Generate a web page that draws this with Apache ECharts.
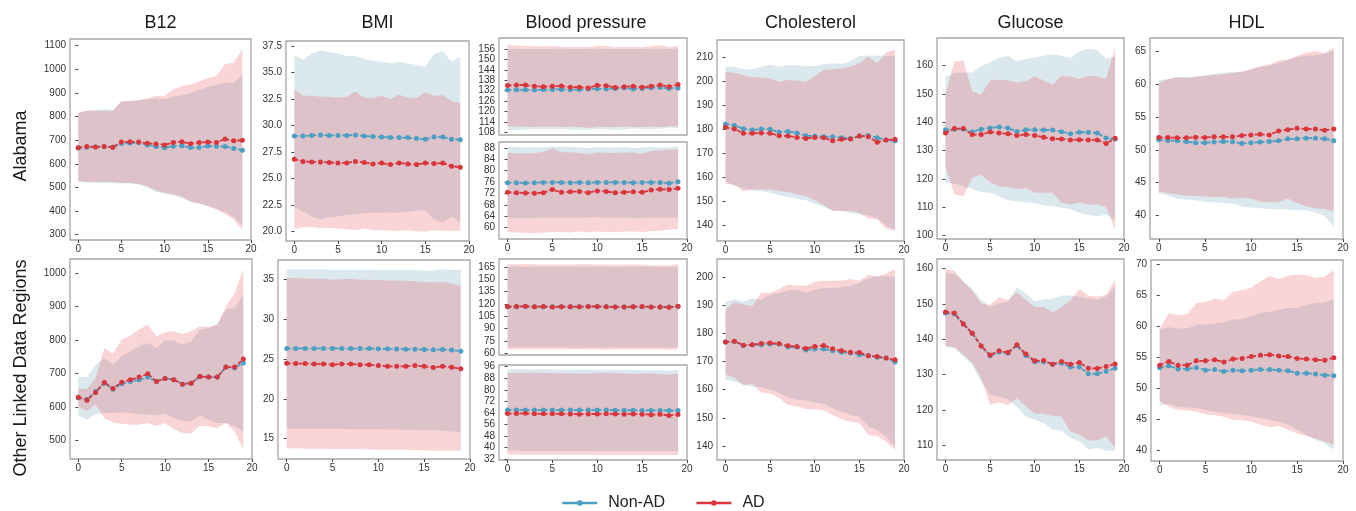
<!DOCTYPE html>
<html><head><meta charset="utf-8">
<script src="https://cdn.jsdelivr.net/npm/echarts@6/dist/echarts.min.js"></script>
<style>html,body{margin:0;padding:0;background:#fff}#c{width:1356px;height:511px}</style>
</head><body><div id="c"></div><script>
// ---------- data ----------
const X = [0,1,2,3,4,5,6,7,8,9,10,11,12,13,14,15,16,17,18,19];
const X_TICKS = [0,5,10,15,20];
const COLS = ['B12','BMI','Blood pressure','Cholesterol','Glucose','HDL'];
const ROWS = ['Alabama','Other Linked Data Regions'];
const SERIES_NAMES = ['Non-AD','AD'];

// Alabama B12
const AL_B12_NON_MEAN=[667,670,671,672,670,686,688,689,680,673,668,674,676,669,669,675,674,673,665,657];
const AL_B12_NON_LO=[524,522,520,520,518,518,517,512,500,482,472,466,455,440,432,422,410,395,375,340];
const AL_B12_NON_HI=[814,823,828,832,828,863,866,867,873,876,873,884,891,898,912,926,933,943,943,979];
const AL_B12_AD_MEAN=[668,673,671,673,670,692,693,692,687,684,680,690,693,685,690,692,690,705,697,700];
const AL_B12_AD_LO=[526,523,523,523,523,519,519,516,505,488,477,471,460,439,432,420,406,389,364,319];
const AL_B12_AD_HI=[816,825,823,823,823,866,866,870,877,888,887,915,929,936,948,962,972,1022,1028,1086];
const AL_B12_YTICKS=[300,400,500,600,700,800,900,1000,1100];
// Alabama BMI
const AL_BMI_NON_MEAN=[29.0,29.0,29.05,29.1,29.05,29.05,29.05,29.1,29.0,28.95,28.9,28.85,28.85,28.85,28.75,28.7,28.9,28.9,28.7,28.65];
const AL_BMI_NON_LO=[22.3,21.85,21.4,21.1,21.3,21.4,21.55,21.55,21.7,21.75,21.75,21.8,21.75,21.85,21.95,21.95,21.1,20.8,21.4,20.8];
const AL_BMI_NON_HI=[36.65,36.2,36.8,37.1,36.9,36.8,36.55,36.55,36.3,36.1,36.0,35.9,36.0,35.85,35.7,35.55,36.75,37.0,36.0,36.5];
const AL_BMI_AD_MEAN=[26.8,26.6,26.55,26.55,26.5,26.45,26.45,26.6,26.5,26.35,26.45,26.3,26.45,26.35,26.3,26.45,26.4,26.45,26.15,26.05];
const AL_BMI_AD_LO=[20.2,20.4,20.4,20.3,20.3,20.25,20.2,20.1,20.25,20.1,20.1,20.05,20.05,20.1,20.0,19.95,20.1,20.05,20.05,20.05];
const AL_BMI_AD_HI=[33.4,32.8,32.8,32.7,32.7,32.6,32.7,33.2,32.6,32.6,32.8,32.5,32.9,32.6,32.6,33.1,32.8,32.85,32.3,32.1];
const AL_BMI_YTICKS=[20.0,22.5,25.0,27.5,30.0,32.5,35.0,37.5];
// Alabama systolic
const AL_SYS_NON_MEAN=[132.4,132.5,132.5,132.4,132.6,132.7,132.7,132.5,132.7,132.9,133.1,133.0,133.3,133.5,132.9,133.3,133.7,133.8,133.3,133.5];
const AL_SYS_NON_LO=[109.2,109.5,109.6,109.8,110.0,109.8,109.8,109.6,109.5,109.4,109.8,109.8,109.5,109.6,110.3,109.8,109.8,110.0,110.8,110.5];
const AL_SYS_NON_HI=[156.2,156.1,156.1,156.0,156.1,156.0,156.2,156.1,156.1,156.1,156.2,156.1,156.0,156.1,156.1,156.0,156.2,156.2,156.0,156.3];
const AL_SYS_AD_MEAN=[135.0,135.3,135.2,134.6,134.3,134.5,134.7,134.0,134.0,133.6,135.1,134.9,133.8,134.2,134.5,133.9,134.6,135.2,134.3,135.5];
const AL_SYS_AD_LO=[111.5,111.3,111.1,111.0,111.2,111.1,111.0,111.2,111.0,110.5,111.2,111.0,111.0,111.2,111.0,111.0,111.2,111.0,111.4,111.5];
const AL_SYS_AD_HI=[158.3,158.1,157.8,157.6,157.6,157.8,157.4,157.0,157.3,157.1,158.0,157.8,157.0,157.3,157.2,157.0,157.8,158.4,157.0,158.1];
const AL_SYS_YTICKS=[108,114,120,126,132,138,144,150,156];
// Alabama diastolic
const AL_DIA_NON_MEAN=[75.8,75.8,75.7,75.8,75.9,75.9,75.9,75.8,75.9,75.8,75.9,75.9,75.9,75.9,75.8,75.9,75.9,75.9,75.6,76.1];
const AL_DIA_NON_LO=[63.3,63.3,63.3,63.4,63.5,63.6,63.6,63.6,63.6,63.6,63.7,63.5,63.6,63.6,63.4,63.4,63.5,63.6,63.6,63.6];
const AL_DIA_NON_HI=[88.3,88.3,88.2,88.3,88.2,88.5,88.4,88.3,88.2,88.0,88.3,88.2,88.2,88.3,88.0,88.2,88.4,88.2,88.2,88.6];
const AL_DIA_AD_MEAN=[72.4,72.3,72.2,72.1,72.3,73.4,72.4,72.6,72.7,72.3,72.9,72.7,72.3,72.4,72.6,72.4,73.2,73.5,73.4,73.8];
const AL_DIA_AD_LO=[58.4,58.3,58.2,58.0,58.2,58.5,58.4,58.3,58.6,58.3,58.6,58.5,58.4,58.6,58.6,58.5,58.7,58.9,59.3,59.4];
const AL_DIA_AD_HI=[86.3,86.1,86.1,86.2,86.6,88.0,86.5,86.5,86.2,85.9,86.4,86.3,86.2,86.4,86.4,86.0,87.0,87.2,87.4,87.6];
const AL_DIA_YTICKS=[60,64,68,72,76,80,84,88];
// Alabama cholesterol
const AL_CHOL_NON_MEAN=[182.2,181.6,180.2,179.7,180.1,180.0,178.8,179.1,178.5,177.3,177.2,176.9,176.9,176.5,176.2,177.2,177.4,176.5,175.5,175.2];
const AL_CHOL_NON_LO=[158.1,156.7,155.3,154.6,154.2,153.6,152.5,151.8,151.1,150.4,149.0,147.7,146.3,146.0,145.1,144.6,144.2,142.8,140.0,137.9];
const AL_CHOL_NON_HI=[206.1,206.1,205.0,205.0,206.1,206.8,206.1,206.7,206.7,206.4,206.4,207.1,207.5,207.2,208.2,210.6,210.6,210.6,210.6,210.6];
const AL_CHOL_AD_MEAN=[180.8,180.1,178.3,178.3,178.5,178.3,177.3,177.2,176.6,176.2,176.6,176.5,175.2,175.8,175.9,177.2,176.9,174.6,175.5,175.8];
const AL_CHOL_AD_LO=[157.4,156.7,154.2,154.9,154.9,154.9,154.3,153.9,152.9,152.2,150.4,148.3,146.0,146.0,146.0,145.1,142.8,142.4,138.6,137.9];
const AL_CHOL_AD_HI=[204.0,203.6,202.6,201.6,201.6,201.2,199.8,200.5,200.3,199.7,202.2,204.7,205.0,205.4,206.1,207.5,210.3,207.5,212.0,213.3];
const AL_CHOL_YTICKS=[140,150,160,170,180,190,200,210];
// Alabama glucose
const AL_GLU_NON_MEAN=[137.4,137.6,137.6,136.6,137.6,138.0,138.4,138.0,136.8,137.4,137.4,137.3,137.3,136.7,136.0,136.5,136.5,136.2,134.5,134.1];
const AL_GLU_NON_LO=[118.6,118.4,117.4,116.5,115.3,115.1,113.9,112.5,112.1,111.8,111.5,110.6,110.4,109.8,109.4,108.0,107.4,106.8,107.4,105.6];
const AL_GLU_NON_HI=[156.0,157.4,157.6,157.6,159.8,161.2,162.7,163.5,161.5,162.4,162.9,163.5,164.1,163.5,162.7,165.1,165.9,165.6,162.4,163.3];
const AL_GLU_AD_MEAN=[136.2,137.8,137.8,135.7,135.7,136.6,136.2,136.0,135.4,135.7,135.4,134.7,134.2,134.1,133.8,133.9,133.8,133.8,132.5,134.4];
const AL_GLU_AD_LO=[124.5,114.5,113.9,120.4,121.5,118.8,117.4,117.1,116.5,116.8,115.1,115.1,115.1,111.5,111.0,111.8,111.0,111.0,110.1,102.1];
const AL_GLU_AD_HI=[149.8,161.5,161.9,150.9,149.8,154.8,155.1,154.8,154.1,154.5,156.2,154.8,153.3,156.5,156.2,155.3,156.5,156.2,155.3,166.6];
const AL_GLU_YTICKS=[100,110,120,130,140,150,160];
// Alabama HDL
const AL_HDL_NON_MEAN=[51.55,51.45,51.4,51.25,51.1,51.1,51.2,51.3,51.25,51.0,51.1,51.2,51.3,51.4,51.7,51.7,51.8,51.8,51.7,51.4];
const AL_HDL_NON_LO=[43.4,43.0,42.6,42.4,42.3,42.1,42.0,41.9,41.8,41.4,41.2,41.1,41.0,40.9,40.9,40.8,40.8,40.5,39.9,38.3];
const AL_HDL_NON_HI=[60.7,60.8,61.2,61.1,61.2,61.4,61.6,61.8,61.9,61.9,62.3,62.7,62.9,63.3,63.7,64.2,64.4,64.5,64.7,65.1];
const AL_HDL_AD_MEAN=[51.9,51.9,51.85,51.85,51.95,51.9,52.0,52.0,52.0,52.2,52.3,52.4,52.3,52.9,53.1,53.3,53.2,53.2,53.0,53.2];
const AL_HDL_AD_LO=[43.7,43.4,43.2,43.0,43.0,42.9,42.8,42.8,42.6,42.7,42.6,42.1,42.0,42.0,42.6,41.9,41.4,41.1,41.0,40.6];
const AL_HDL_AD_HI=[60.2,60.8,61.1,61.0,61.2,61.3,61.5,61.6,61.7,62.0,62.3,62.8,63.0,63.7,63.8,64.4,64.8,65.1,64.8,65.6];
const AL_HDL_YTICKS=[40,45,50,55,60,65];

// Other regions B12
const OT_B12_NON_MEAN=[627,622,646,671,653,669,676,681,689,676,685,681,668,671,691,689,689,719,716,731];
const OT_B12_NON_LO=[575,562,579,582,582,584,582,577,577,574,580,567,557,557,574,562,552,552,542,527];
const OT_B12_NON_HI=[689,689,726,746,726,751,766,781,791,776,799,799,786,796,831,836,846,891,896,938];
const OT_B12_AD_MEAN=[629,620,643,673,655,674,681,689,699,676,685,681,668,671,691,689,689,719,719,743];
const OT_B12_AD_LO=[602,587,607,567,554,550,547,547,552,542,552,534,522,520,544,542,537,552,527,472];
const OT_B12_AD_HI=[655,653,686,776,759,801,813,831,846,811,823,826,818,826,841,839,846,900,940,1012];
const OT_B12_YTICKS=[500,600,700,800,900,1000];
// Other regions BMI
const OT_BMI_NON_MEAN=[26.35,26.35,26.35,26.35,26.35,26.35,26.35,26.33,26.33,26.33,26.3,26.3,26.28,26.25,26.25,26.22,26.2,26.22,26.15,26.0];
const OT_BMI_NON_LO=[16.25,16.25,16.25,16.25,16.25,16.25,16.25,16.2,16.2,16.2,16.2,16.15,16.15,16.1,16.1,16.05,16.05,16.0,15.9,15.8];
const OT_BMI_NON_HI=[36.3,36.3,36.3,36.3,36.3,36.25,36.25,36.25,36.25,36.25,36.2,36.2,36.2,36.2,36.2,36.15,36.15,36.3,36.2,36.2];
const OT_BMI_AD_MEAN=[24.5,24.45,24.45,24.4,24.4,24.3,24.4,24.4,24.3,24.3,24.2,24.1,24.1,24.1,24.2,24.1,23.95,24.1,24.0,23.8];
const OT_BMI_AD_LO=[13.8,13.8,13.75,13.75,13.75,13.7,13.7,13.7,13.7,13.65,13.6,13.6,13.6,13.6,13.55,13.55,13.5,13.5,13.5,13.5];
const OT_BMI_AD_HI=[35.2,35.2,35.15,35.1,35.1,35.0,35.05,35.1,35.0,35.0,34.95,34.9,34.9,34.85,34.8,34.7,34.65,34.7,34.5,34.2];
const OT_BMI_YTICKS=[15,20,25,30,35];
// Other regions systolic
const OT_SYS_NON_MEAN=[116.8,116.8,117.0,116.7,116.8,116.6,116.7,116.7,116.7,117.0,116.8,116.7,116.5,116.5,116.7,116.8,116.5,116.5,116.3,116.9];
const OT_SYS_NON_LO=[67.5,67.4,67.3,67.2,67.2,67.2,67.2,67.1,67.1,67.1,67.0,67.0,67.0,67.0,67.0,67.0,67.0,67.0,67.0,67.0];
const OT_SYS_NON_HI=[165.6,165.6,165.5,165.4,165.4,165.4,165.4,165.5,165.5,165.5,165.5,165.4,165.4,165.4,165.4,165.3,165.3,165.2,165.2,165.4];
const OT_SYS_AD_MEAN=[116.9,116.9,117.2,116.7,116.9,116.4,116.7,116.7,116.7,117.1,116.9,116.7,116.4,116.4,116.7,116.9,116.4,116.4,115.9,117.4];
const OT_SYS_AD_LO=[65.0,64.9,64.9,64.9,64.8,64.8,64.8,64.8,64.8,64.8,64.6,64.3,64.5,64.6,64.7,64.7,64.6,64.6,64.3,64.8];
const OT_SYS_AD_HI=[168.5,168.5,168.7,168.3,168.0,167.9,168.0,168.2,168.3,168.3,168.0,167.8,167.8,167.8,168.2,167.7,167.0,167.3,166.8,168.5];
const OT_SYS_YTICKS=[60,75,90,105,120,135,150,165];
// Other regions diastolic
const OT_DIA_NON_MEAN=[66.1,66.1,66.1,66.0,66.0,66.0,66.0,66.0,66.0,66.0,66.0,66.0,65.9,65.9,65.9,65.8,65.8,65.8,65.7,65.8];
const OT_DIA_NON_LO=[37.9,37.9,37.8,37.8,37.8,37.8,37.8,37.7,37.7,37.7,37.8,37.8,37.7,37.7,37.7,37.7,37.6,37.6,37.6,37.6];
const OT_DIA_NON_HI=[94.2,94.2,94.2,94.1,94.1,94.1,94.0,94.0,94.0,94.0,94.0,94.0,94.0,93.9,93.8,93.7,93.6,93.5,93.3,93.8];
const OT_DIA_AD_MEAN=[63.6,63.7,63.8,63.5,63.4,63.5,63.4,63.3,63.2,63.3,63.3,63.5,63.3,63.2,63.3,63.2,62.8,63.1,62.3,62.9];
const OT_DIA_AD_LO=[35.3,35.3,35.2,35.2,35.2,35.2,35.1,35.1,35.1,35.1,35.0,35.0,35.0,35.0,35.0,35.0,35.0,34.9,34.9,34.9];
const OT_DIA_AD_HI=[91.8,91.9,91.9,91.8,91.6,91.6,91.5,91.5,91.4,91.4,91.6,91.9,91.6,91.5,91.2,91.3,91.3,90.9,90.4,90.9];
const OT_DIA_YTICKS=[32,40,48,56,64,72,80,88,96];
// Other regions cholesterol
const OT_CHOL_NON_MEAN=[176.9,177.1,175.7,175.9,175.9,176.2,176.2,175.1,175.1,174.1,174.4,174.4,173.8,173.3,173.0,172.4,172.0,171.5,171.2,169.8];
const OT_CHOL_NON_LO=[163.5,162.9,161.7,161.1,160.9,159.9,159.0,157.0,156.4,156.1,155.4,154.9,153.4,152.2,151.0,150.4,146.9,145.7,143.3,139.7];
const OT_CHOL_NON_HI=[191.3,191.9,191.3,192.5,191.9,193.7,194.3,195.3,195.5,194.5,195.5,196.1,196.1,196.4,196.9,197.9,199.6,200.2,200.2,200.2];
const OT_CHOL_AD_MEAN=[176.9,177.2,175.8,175.9,176.4,176.6,176.3,175.6,175.3,174.6,175.3,175.7,174.5,173.8,173.3,173.2,172.0,171.8,171.2,170.6];
const OT_CHOL_AD_LO=[165.3,164.1,161.7,162.0,159.0,158.5,157.0,154.6,154.0,153.0,153.0,152.6,151.0,149.5,148.6,148.1,143.9,143.5,141.5,138.6];
const OT_CHOL_AD_HI=[188.4,191.0,190.2,189.6,194.3,194.5,195.7,197.3,196.9,196.9,198.2,198.7,198.7,198.8,199.3,198.7,200.8,200.2,201.2,203.0];
const OT_CHOL_YTICKS=[140,150,160,170,180,190,200];
// Other regions glucose
const OT_GLU_NON_MEAN=[147.4,147.1,144.3,141.7,138.1,135.3,136.4,136.0,138.2,135.4,133.6,133.6,132.9,133.2,132.1,132.1,130.2,130.2,130.9,131.8];
const OT_GLU_NON_LO=[137.9,137.5,135.1,132.7,128.0,124.3,123.8,123.0,120.9,118.1,117.2,116.2,114.4,114.1,112.0,111.1,108.7,109.2,108.4,108.4];
const OT_GLU_NON_HI=[158.7,158.5,156.3,154.2,151.1,149.2,150.2,150.7,154.7,153.0,150.7,151.3,151.5,152.4,152.4,152.1,151.6,151.1,152.1,154.9];
const OT_GLU_AD_MEAN=[147.7,147.4,144.3,141.7,138.1,135.5,136.7,136.2,138.4,135.8,133.9,134.0,132.9,133.7,132.9,133.4,131.8,131.7,132.3,133.0];
const OT_GLU_AD_LO=[138.1,137.7,135.6,133.4,129.0,121.4,122.1,121.4,123.3,121.0,118.9,118.9,118.3,118.1,113.9,113.0,111.3,111.3,112.5,109.2];
const OT_GLU_AD_HI=[159.9,159.4,156.3,153.8,150.2,149.7,151.9,151.1,153.2,151.1,149.1,149.1,147.6,149.0,151.1,154.2,152.3,152.1,152.5,156.8];
const OT_GLU_YTICKS=[110,120,130,140,150,160];
// Other regions HDL
const OT_HDL_NON_MEAN=[53.3,53.6,53.1,53.1,53.3,52.9,53.0,52.7,52.9,52.8,52.9,53.0,53.0,52.9,52.8,52.4,52.4,52.3,52.1,52.0];
const OT_HDL_NON_LO=[47.3,47.5,47.0,46.9,46.8,46.5,46.2,46.0,45.8,45.7,45.5,45.2,44.9,44.6,44.1,43.3,42.5,41.7,41.1,40.1];
const OT_HDL_NON_HI=[59.5,59.8,59.6,59.6,60.2,60.3,60.4,60.6,61.1,61.1,61.6,62.1,62.3,62.6,62.9,62.9,63.4,63.7,63.8,64.3];
const OT_HDL_AD_MEAN=[53.7,54.3,53.7,53.7,54.4,54.4,54.6,54.2,54.7,54.8,55.1,55.3,55.4,55.2,55.1,54.8,54.7,54.6,54.5,54.9];
const OT_HDL_AD_LO=[48.0,47.0,46.5,46.4,46.2,45.8,45.7,45.4,44.9,44.9,44.6,44.1,43.7,43.9,43.3,42.7,42.3,41.9,41.4,40.9];
const OT_HDL_AD_HI=[59.6,62.1,61.8,61.9,63.7,63.9,64.4,64.2,65.5,65.8,66.2,67.2,68.1,67.6,68.1,68.3,68.2,67.8,68.0,69.0];
const OT_HDL_YTICKS=[40,45,50,55,60,65,70];

// ---------- layout (positions, not data) ----------
const PANELS = [
  {box:[70,39,181,201],  ymin:277.5, ymax:1128, yt:AL_B12_YTICKS, dec:0, xl:true, d:[AL_B12_NON_MEAN,AL_B12_NON_LO,AL_B12_NON_HI,AL_B12_AD_MEAN,AL_B12_AD_LO,AL_B12_AD_HI]},
  {box:[286,41,183,200], ymin:19.08, ymax:37.97, yt:AL_BMI_YTICKS, dec:1, xl:true, d:[AL_BMI_NON_MEAN,AL_BMI_NON_LO,AL_BMI_NON_HI,AL_BMI_AD_MEAN,AL_BMI_AD_LO,AL_BMI_AD_HI]},
  {box:[499,38,188,97],  ymin:106.4, ymax:162.4, yt:AL_SYS_YTICKS, dec:0, xl:false, d:[AL_SYS_NON_MEAN,AL_SYS_NON_LO,AL_SYS_NON_HI,AL_SYS_AD_MEAN,AL_SYS_AD_LO,AL_SYS_AD_HI]},
  {box:[499,142,188,97], ymin:56.0, ymax:90.1, yt:AL_DIA_YTICKS, dec:0, xl:true, d:[AL_DIA_NON_MEAN,AL_DIA_NON_LO,AL_DIA_NON_HI,AL_DIA_AD_MEAN,AL_DIA_AD_LO,AL_DIA_AD_HI]},
  {box:[717,40,187,201], ymin:133.45, ymax:217.2, yt:AL_CHOL_YTICKS, dec:0, xl:true, d:[AL_CHOL_NON_MEAN,AL_CHOL_NON_LO,AL_CHOL_NON_HI,AL_CHOL_AD_MEAN,AL_CHOL_AD_LO,AL_CHOL_AD_HI]},
  {box:[937,38,187,201], ymin:98.8, ymax:169.8, yt:AL_GLU_YTICKS, dec:0, xl:true, d:[AL_GLU_NON_MEAN,AL_GLU_NON_LO,AL_GLU_NON_HI,AL_GLU_AD_MEAN,AL_GLU_AD_LO,AL_GLU_AD_HI]},
  {box:[1150,38,193,201],ymin:36.4, ymax:67.1, yt:AL_HDL_YTICKS, dec:0, xl:true, d:[AL_HDL_NON_MEAN,AL_HDL_NON_LO,AL_HDL_NON_HI,AL_HDL_AD_MEAN,AL_HDL_AD_LO,AL_HDL_AD_HI]},
  {box:[70,259,182,200], ymin:444.4, ymax:1041.8, yt:OT_B12_YTICKS, dec:0, xl:true, d:[OT_B12_NON_MEAN,OT_B12_NON_LO,OT_B12_NON_HI,OT_B12_AD_MEAN,OT_B12_AD_LO,OT_B12_AD_HI]},
  {box:[278,260,192,199],ymin:12.45, ymax:37.47, yt:OT_BMI_YTICKS, dec:0, xl:true, d:[OT_BMI_NON_MEAN,OT_BMI_NON_LO,OT_BMI_NON_HI,OT_BMI_AD_MEAN,OT_BMI_AD_LO,OT_BMI_AD_HI]},
  {box:[499,259,188,96], ymin:57.9, ymax:174.8, yt:OT_SYS_YTICKS, dec:0, xl:false, d:[OT_SYS_NON_MEAN,OT_SYS_NON_LO,OT_SYS_NON_HI,OT_SYS_AD_MEAN,OT_SYS_AD_LO,OT_SYS_AD_HI]},
  {box:[499,365,188,95], ymin:31.5, ymax:97.2, yt:OT_DIA_YTICKS, dec:0, xl:true, d:[OT_DIA_NON_MEAN,OT_DIA_NON_LO,OT_DIA_NON_HI,OT_DIA_AD_MEAN,OT_DIA_AD_LO,OT_DIA_AD_HI]},
  {box:[717,259,187,201],ymin:135.0, ymax:206.4, yt:OT_CHOL_YTICKS, dec:0, xl:true, d:[OT_CHOL_NON_MEAN,OT_CHOL_NON_LO,OT_CHOL_NON_HI,OT_CHOL_AD_MEAN,OT_CHOL_AD_LO,OT_CHOL_AD_HI]},
  {box:[937,259,187,201],ymin:105.8, ymax:162.7, yt:OT_GLU_YTICKS, dec:0, xl:true, d:[OT_GLU_NON_MEAN,OT_GLU_NON_LO,OT_GLU_NON_HI,OT_GLU_AD_MEAN,OT_GLU_AD_LO,OT_GLU_AD_HI]},
  {box:[1151,260,192,201],ymin:38.28, ymax:70.64, yt:OT_HDL_YTICKS, dec:0, xl:true, d:[OT_HDL_NON_MEAN,OT_HDL_NON_LO,OT_HDL_NON_HI,OT_HDL_AD_MEAN,OT_HDL_AD_LO,OT_HDL_AD_HI]}
];
const COL_CENTERS = [160.5,377.5,586,810.5,1030.5,1246.5];
const ROW_CENTERS = [146,368];

const BLUE = '#4a9fc2', RED = '#d9353d';
const BLUE_BAND = 'rgba(90,150,175,0.22)', RED_BAND = 'rgba(232,80,88,0.24)';
const FONT = 'Liberation Sans, Arial, sans-serif';

const grids=[], xAxes=[], yAxes=[], series=[];
function band(i, lo, hi, color){
  series.push({
    type:'custom', xAxisIndex:i, yAxisIndex:i, silent:true, z:1, clip:false,
    data: X.map((x,k)=>[x, lo[k], hi[k]]),
    encode:{x:0, y:[1,2]},
    renderItem:function(params, api){
      if(params.dataIndex!==0) return null;
      const pts=[];
      for(let k=0;k<X.length;k++) pts.push(api.coord([X[k], hi[k]]));
      for(let k=X.length-1;k>=0;k--) pts.push(api.coord([X[k], lo[k]]));
      return {type:'polygon', shape:{points:pts}, style:{fill:color, stroke:null}};
    }
  });
}
function line(i, name, vals, color){
  series.push({
    type:'line', name:name, xAxisIndex:i, yAxisIndex:i, z:3, silent:true,
    data: X.map((x,k)=>[x, vals[k]]),
    symbol:'circle', symbolSize:5, showSymbol:true, showAllSymbol:true,
    lineStyle:{color:color, width:1.8, type:[4,2]},
    itemStyle:{color:color}
  });
}
PANELS.forEach((p,i)=>{
  grids.push({left:p.box[0], top:p.box[1], width:p.box[2], height:p.box[3], show:true,
    borderColor:'#a6a6a6', borderWidth:1.3, backgroundColor:'transparent'});
  xAxes.push({type:'value', gridIndex:i, min:-0.95, max:20, splitLine:{show:false},
    axisLine:{show:false},
    axisTick:{show:p.xl, length:3, customValues:X_TICKS, lineStyle:{color:'#444'}},
    axisLabel:{show:p.xl, customValues:X_TICKS, margin:4, fontSize:10, color:'#333', fontFamily:FONT}});
  yAxes.push({type:'value', gridIndex:i, min:p.ymin, max:p.ymax, splitLine:{show:false},
    axisLine:{show:false},
    axisTick:{show:true, length:3, customValues:p.yt, lineStyle:{color:'#444'}},
    axisLabel:{customValues:p.yt, margin:4, fontSize:10, color:'#333', fontFamily:FONT,
      formatter: p.dec ? (v=>Number(v).toFixed(1)) : (v=>String(Math.round(v)))}});
  band(i, p.d[1], p.d[2], BLUE_BAND);
  band(i, p.d[4], p.d[5], RED_BAND);
  line(i, SERIES_NAMES[0], p.d[0], BLUE);
  line(i, SERIES_NAMES[1], p.d[3], RED);
});

const graphic = [];
COLS.forEach((t,c)=>graphic.push({type:'text', x:COL_CENTERS[c], y:23,
  style:{text:t, fill:'#1a1a1a', font:'18px '+FONT, textAlign:'center', textVerticalAlign:'middle'}}));
ROWS.forEach((t,r)=>graphic.push({type:'text', x:21, y:ROW_CENTERS[r], rotation:Math.PI/2,
  style:{text:t, fill:'#1a1a1a', font:'18px '+FONT, textAlign:'center', textVerticalAlign:'middle'}}));

const chart = echarts.init(document.getElementById('c'), null, {renderer:'canvas'});
chart.setOption({
  animation:false,
  backgroundColor:'#ffffff',
  grid:grids, xAxis:xAxes, yAxis:yAxes, series:series, graphic:graphic,
  legend:{data:SERIES_NAMES, left:561, top:495, padding:0, itemWidth:35, itemHeight:7, itemGap:30,
    selectedMode:false,
    lineStyle:{type:'solid', width:2.5},
    textStyle:{fontSize:16, color:'#222', fontFamily:FONT, padding:[0,0,0,6]}}
});
</script></body></html>
